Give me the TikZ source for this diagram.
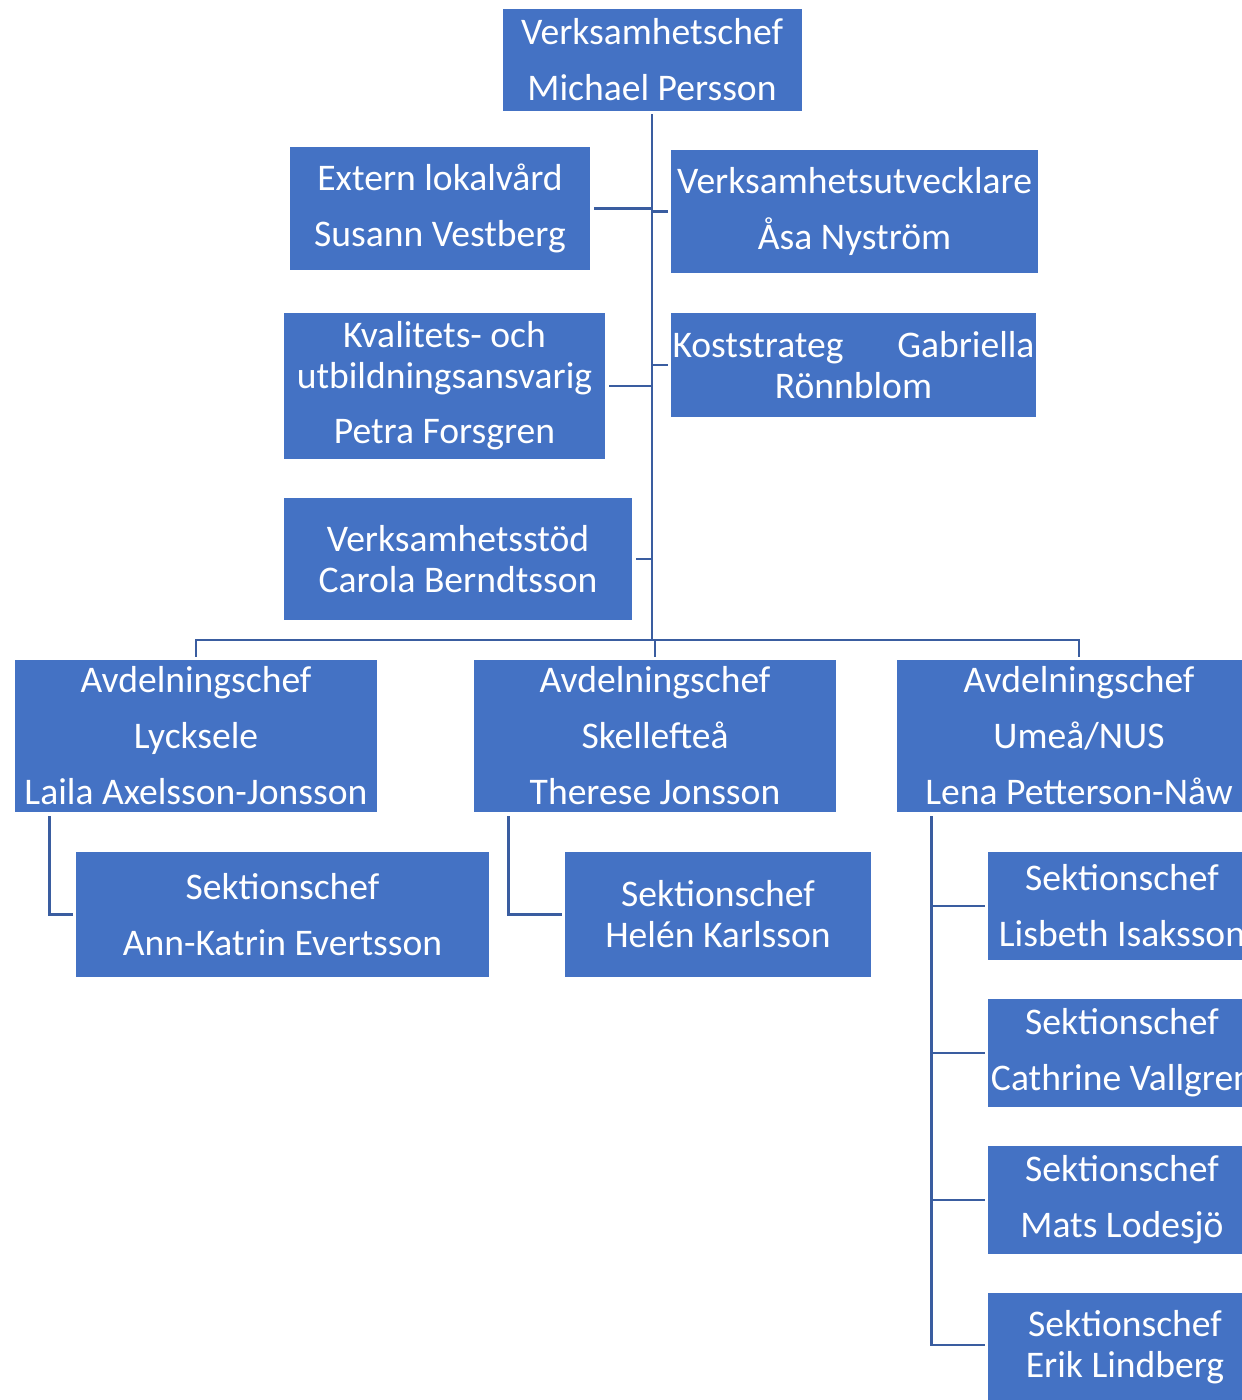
\documentclass[tikz,border=0pt]{standalone}
\usepackage{fontspec}
\setmainfont{Carlito}
\definecolor{boxblue}{HTML}{4472C4}
\definecolor{lineblue}{HTML}{3A5DA0}
\begin{document}
\begin{tikzpicture}[x=1pt,y=-1pt,
  box/.style={fill=boxblue, text=white, inner sep=0pt, align=center,
    font=\fontsize{37.6}{41}\selectfont},
  conn/.style={draw=lineblue, line width=2.8pt}]
\useasboundingbox (0,0) rectangle (1242,1400);
\clip (0,0) rectangle (1242,1400);
\node[box, minimum width=299, minimum height=102] (vc) at (652,60) {Verksamhetschef\\[15pt]Michael Persson};
\node[box, minimum width=300, minimum height=123] (ext) at (440,208.5) {Extern lokalvård\\[15pt]Susann Vestberg};
\node[box, minimum width=367, minimum height=123] (vutv) at (854.5,211.5) {Verksamhetsutvecklare\\[15pt]Åsa Nyström};
\node[box, minimum width=321, minimum height=146] (kval) at (444.5,386) {Kvalitets- och\\utbildningsansvarig\\[14pt]Petra Forsgren};
\node[box, minimum width=365, minimum height=104] (kost) at (853.5,365) {\makebox[362pt]{Koststrateg\hfill Gabriella}\\Rönnblom};
\node[box, minimum width=348, minimum height=122] (stod) at (458,559) {Verksamhetsstöd\\Carola Berndtsson};
\node[box, minimum width=362, minimum height=152] (avdL) at (196,736) {Avdelningschef\\[15pt]Lycksele\\[15pt]Laila Axelsson-Jonsson};
\node[box, minimum width=362, minimum height=152] (avdS) at (655,736) {Avdelningschef\\[15pt]Skellefteå\\[15pt]Therese Jonsson};
\node[box, minimum width=364, minimum height=152] (avdU) at (1079,736) {Avdelningschef\\[15pt]Umeå/NUS\\[15pt]Lena Petterson-Nåw};
\node[box, minimum width=413, minimum height=125] (sekA) at (282.5,914.5) {Sektionschef\\[15pt]Ann-Katrin Evertsson};
\node[box, minimum width=306, minimum height=125] (sekH) at (718,914.5) {Sektionschef\\Helén Karlsson};
\node[box, minimum width=268, minimum height=108] (sekLi) at (1122,906) {Sektionschef\\[15pt]Lisbeth Isaksson};
\node[box, minimum width=268, minimum height=108] (sekC) at (1122,1053) {Sektionschef\\[15pt]Cathrine Vallgren};
\node[box, minimum width=268, minimum height=108] (sekM) at (1122,1200) {Sektionschef\\[15pt]Mats Lodesjö};
\node[box, minimum width=274, minimum height=108] (sekE) at (1125,1347) {Sektionschef\\Erik Lindberg};

\coordinate (bus) at (652,640);
\coordinate (umx) at ([xshift=35pt]avdU.south west);
\draw[conn, shorten <=3pt] (vc.south) -- (bus);
\draw[conn, shorten <=4pt] (ext.east) -- (ext.east -| bus);
\draw[conn, shorten >=3pt] (vutv.west -| bus) -- (vutv.west);
\draw[conn, shorten <=4pt] (kval.east) -- (kval.east -| bus);
\draw[conn, shorten >=3pt] (kost.west -| bus) -- (kost.west);
\draw[conn, shorten <=4pt] (stod.east) -- (stod.east -| bus);
\draw[conn, shorten <=3pt, shorten >=3pt] (avdL.north) |- (bus) -| (avdU.north);
\draw[conn, shorten <=3pt] (avdS.north) -- (avdS.north |- bus);
\draw[conn, shorten <=4pt, shorten >=3pt] ([xshift=35pt]avdL.south west) |- (sekA.west);
\draw[conn, shorten <=4pt, shorten >=3pt] ([xshift=35pt]avdS.south west) |- (sekH.west);
\draw[conn, shorten <=4pt, shorten >=3pt] (umx) |- ([yshift=2pt]sekE.west);
\draw[conn, shorten >=3pt] (sekLi.west -| umx) -- (sekLi.west);
\draw[conn, shorten >=3pt] (sekC.west -| umx) -- (sekC.west);
\draw[conn, shorten >=3pt] (sekM.west -| umx) -- (sekM.west);
\end{tikzpicture}
\end{document}
